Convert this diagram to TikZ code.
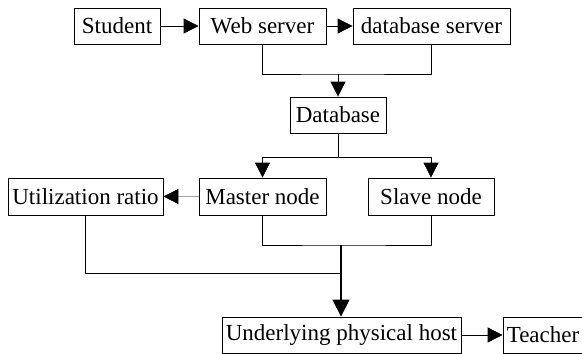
\documentclass[tikz,border=0pt]{standalone}
\usepackage{fontspec}
\setmainfont{Liberation Serif}
\usetikzlibrary{arrows.meta}
\begin{document}
\begin{tikzpicture}[x=1pt,y=-1pt,
  box/.style={draw, line width=0.8pt, inner sep=0pt, minimum height=36pt, font=\fontsize{23}{25}\selectfont},
  conn/.style={line width=0.8pt},
  arr/.style={line width=0.8pt, -{Triangle[length=15pt,width=15pt]}}]
\useasboundingbox (0,0) rectangle (582,354);
\node[box, minimum width=86pt] (stu) at (117,26) {Student};
\node[box, minimum width=127pt] (web) at (262.5,26) {Web server};
\node[box, minimum width=157pt] (dbs) at (431.5,26) {database server};
\node[box, minimum width=96pt] (db) at (338,115) {Database};
\node[box, minimum width=127pt, minimum height=37pt] (mas) at (262.5,196.5) {Master node};
\node[box, minimum width=126pt, minimum height=37pt] (sla) at (431,196.5) {Slave node};
\node[box, minimum width=155pt, minimum height=37pt] (uti) at (85.5,196.5) {Utilization ratio};
\node[box, minimum width=239pt] (und) at (341.5,335) {Underlying physical host};
\node[box, minimum width=80pt] (tea) at (543,335) {Teacher};
\coordinate (j1) at (338,74);
\coordinate (j2) at (338,157);
\coordinate (j3) at (341,245);
\coordinate (j4) at (341,273);
\draw[arr] (stu) -- (web);
\draw[arr] (web) -- (dbs);
\draw[conn] (web.south) |- (j1) -| (dbs.south);
\draw[arr] (j1) -- (db.north);
\draw[conn] (db.south) -- (j2);
\draw[arr] (j2) -| (mas.north);
\draw[arr] (j2) -| (sla.north);
\draw[line width=0.8pt, draw=gray!70, -{Triangle[length=15pt,width=15pt,color=black]}] (mas.west) -- (uti.east);
\draw[conn] (mas.south) |- (j3) -| (sla.south);
\draw[conn] (uti.south) |- (j4);
\draw[line width=1.2pt, -{Triangle[length=17pt,width=17pt]}] (j3) -- (und.north -| j3);
\draw[arr] (und) -- (tea);
\end{tikzpicture}
\end{document}
